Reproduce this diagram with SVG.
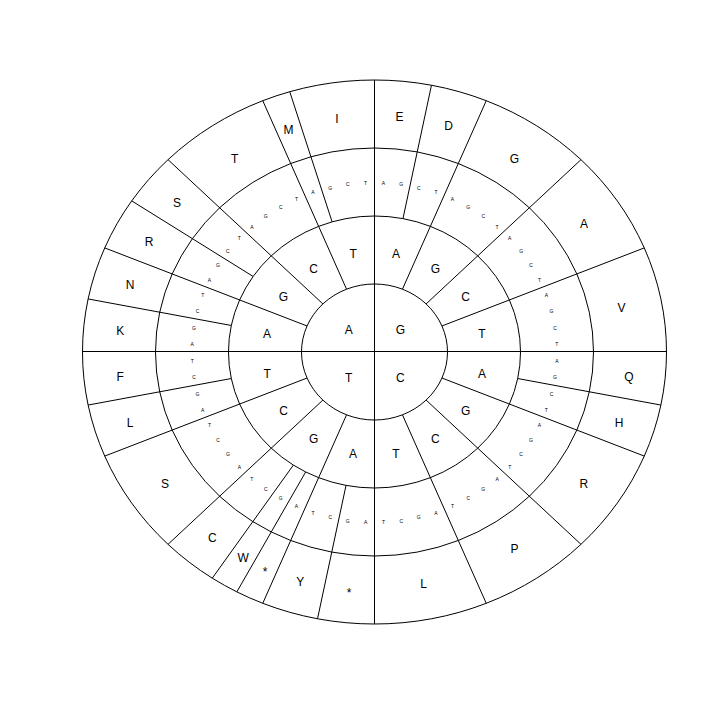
<svg xmlns="http://www.w3.org/2000/svg" width="720" height="720" viewBox="0 0 720 720">
<style>
.ring{fill:none;stroke:#000;stroke-width:1}
.cn line{stroke:#000;stroke-width:1}
text{font-family:"Liberation Sans",Arial,sans-serif;fill:#000;text-anchor:middle}
.lab{font-size:12px}
.sm{font-size:5px}
</style>
<rect width="720" height="720" fill="#fff"/>
<g id="rings">
<ellipse class="ring" cx="374.5" cy="352" rx="73" ry="68"/>
<ellipse class="ring" cx="374.5" cy="352" rx="146" ry="136"/>
<ellipse class="ring" cx="374.5" cy="352" rx="219" ry="204"/>
<ellipse class="ring" cx="374.5" cy="352" rx="292" ry="272"/>
</g>
<g id="connectors" class="cn">
<line x1="82.5" y1="351.5" x2="666.5" y2="351.5"/>
<line x1="374.5" y1="80" x2="374.5" y2="624"/>
<line x1="307.06" y1="325.98" x2="104.73" y2="247.91"/>
<line x1="322.88" y1="303.92" x2="168.02" y2="159.67"/>
<line x1="346.56" y1="289.18" x2="262.76" y2="100.70"/>
<line x1="402.44" y1="289.18" x2="486.24" y2="100.70"/>
<line x1="426.12" y1="303.92" x2="580.98" y2="159.67"/>
<line x1="441.94" y1="325.98" x2="644.27" y2="247.91"/>
<line x1="441.94" y1="378.02" x2="644.27" y2="456.09"/>
<line x1="426.12" y1="400.08" x2="580.98" y2="544.33"/>
<line x1="402.44" y1="414.82" x2="486.24" y2="603.30"/>
<line x1="346.56" y1="414.82" x2="262.76" y2="603.30"/>
<line x1="322.88" y1="400.08" x2="168.02" y2="544.33"/>
<line x1="307.06" y1="378.02" x2="104.73" y2="456.09"/>
<line x1="231.30" y1="325.47" x2="88.11" y2="298.94"/>
<line x1="253.11" y1="276.44" x2="131.71" y2="200.88"/>
<line x1="332.12" y1="221.86" x2="289.74" y2="91.71"/>
<line x1="402.98" y1="218.61" x2="431.47" y2="85.23"/>
<line x1="517.70" y1="378.53" x2="660.89" y2="405.06"/>
<line x1="346.02" y1="485.39" x2="317.53" y2="618.77"/>
<line x1="305.68" y1="471.94" x2="236.85" y2="591.88"/>
<line x1="293.39" y1="465.08" x2="212.27" y2="578.16"/>
<line x1="231.30" y1="378.53" x2="88.11" y2="405.06"/>
</g>
<g id="first-base" class="lab">
<text x="348.7" y="333.8">A</text>
<text x="400.3" y="333.8">G</text>
<text x="400.3" y="381.8">C</text>
<text x="348.7" y="381.8">T</text>
</g>
<g id="second-base" class="lab">
<text x="267.1" y="337.9">A</text>
<text x="283.5" y="301.1">G</text>
<text x="313.7" y="273.0">C</text>
<text x="353.1" y="257.8">T</text>
<text x="395.9" y="257.8">A</text>
<text x="435.3" y="273.0">G</text>
<text x="465.6" y="301.1">C</text>
<text x="481.9" y="337.9">T</text>
<text x="481.9" y="377.7">A</text>
<text x="465.6" y="414.5">G</text>
<text x="435.3" y="442.6">C</text>
<text x="395.9" y="457.8">T</text>
<text x="353.1" y="457.8">A</text>
<text x="313.7" y="442.6">G</text>
<text x="283.5" y="414.5">C</text>
<text x="267.1" y="377.7">T</text>
</g>
<g id="third-base" class="sm">
<text x="192.2" y="346.2">A</text>
<text x="194.0" y="329.6">G</text>
<text x="197.5" y="313.2">C</text>
<text x="202.7" y="297.2">T</text>
<text x="209.5" y="281.8">A</text>
<text x="218.0" y="267.1">G</text>
<text x="227.9" y="253.2">C</text>
<text x="239.3" y="240.3">T</text>
<text x="251.9" y="228.5">A</text>
<text x="265.8" y="218.0">G</text>
<text x="280.7" y="208.7">C</text>
<text x="296.5" y="200.8">T</text>
<text x="313.0" y="194.4">A</text>
<text x="330.2" y="189.6">G</text>
<text x="347.7" y="186.3">C</text>
<text x="365.6" y="184.7">T</text>
<text x="383.5" y="184.7">A</text>
<text x="401.3" y="186.3">G</text>
<text x="418.8" y="189.6">C</text>
<text x="436.0" y="194.4">T</text>
<text x="452.5" y="200.8">A</text>
<text x="468.3" y="208.7">G</text>
<text x="483.2" y="218.0">C</text>
<text x="497.1" y="228.5">T</text>
<text x="509.7" y="240.3">A</text>
<text x="521.1" y="253.2">G</text>
<text x="531.0" y="267.1">C</text>
<text x="539.5" y="281.8">T</text>
<text x="546.3" y="297.2">A</text>
<text x="551.5" y="313.2">G</text>
<text x="555.0" y="329.6">C</text>
<text x="556.8" y="346.2">T</text>
<text x="556.8" y="362.8">A</text>
<text x="555.0" y="379.4">G</text>
<text x="551.5" y="395.8">C</text>
<text x="546.3" y="411.8">T</text>
<text x="539.5" y="427.2">A</text>
<text x="531.0" y="441.9">G</text>
<text x="521.1" y="455.8">C</text>
<text x="509.7" y="468.7">T</text>
<text x="497.1" y="480.5">A</text>
<text x="483.2" y="491.1">G</text>
<text x="468.3" y="500.3">C</text>
<text x="452.5" y="508.2">T</text>
<text x="436.0" y="514.6">A</text>
<text x="418.8" y="519.4">G</text>
<text x="401.3" y="522.7">C</text>
<text x="383.5" y="524.3">T</text>
<text x="365.6" y="524.3">A</text>
<text x="347.7" y="522.7">G</text>
<text x="330.2" y="519.4">C</text>
<text x="313.0" y="514.6">T</text>
<text x="296.5" y="508.2">A</text>
<text x="280.7" y="500.3">G</text>
<text x="265.8" y="491.1">C</text>
<text x="251.9" y="480.5">T</text>
<text x="239.3" y="468.7">A</text>
<text x="227.9" y="455.8">G</text>
<text x="218.0" y="441.9">C</text>
<text x="209.5" y="427.2">T</text>
<text x="202.7" y="411.8">A</text>
<text x="197.5" y="395.8">G</text>
<text x="194.0" y="379.4">C</text>
<text x="192.2" y="362.8">T</text>
</g>
<g id="amino-acids" class="lab">
<g id="aa-K"><text x="120.2" y="334.7">K</text></g>
<g id="aa-N"><text x="130.0" y="288.9">N</text></g>
<g id="aa-R1"><text x="149.2" y="245.8">R</text></g>
<g id="aa-S1"><text x="177.0" y="207.0">S</text></g>
<g id="aa-T"><text x="234.6" y="162.9">T</text></g>
<g id="aa-M"><text x="288.4" y="133.9">M</text></g>
<g id="aa-I"><text x="337.0" y="122.6">I</text></g>
<g id="aa-E"><text x="399.5" y="121.2">E</text></g>
<g id="aa-D"><text x="448.7" y="130.3">D</text></g>
<g id="aa-G"><text x="514.4" y="162.9">G</text></g>
<g id="aa-A"><text x="583.9" y="227.7">A</text></g>
<g id="aa-V"><text x="621.5" y="312.2">V</text></g>
<g id="aa-Q"><text x="628.8" y="381.3">Q</text></g>
<g id="aa-H"><text x="619.0" y="427.1">H</text></g>
<g id="aa-R2"><text x="583.9" y="488.3">R</text></g>
<g id="aa-P"><text x="514.4" y="553.1">P</text></g>
<g id="aa-L1"><text x="423.6" y="588.1">L</text></g>
<g id="aa-stop1"><text x="349.0" y="597">*</text></g>
<g id="aa-Y"><text x="300.3" y="585.8">Y</text></g>
<g id="aa-stop2"><text x="265.0" y="576.3">*</text></g>
<g id="aa-W"><text x="243.2" y="562.1">W</text></g>
<g id="aa-C"><text x="212.4" y="542.0">C</text></g>
<g id="aa-S2"><text x="165.1" y="488.3">S</text></g>
<g id="aa-L2"><text x="130.0" y="427.1">L</text></g>
<g id="aa-F"><text x="120.2" y="381.3">F</text></g>
</g>
</svg>
